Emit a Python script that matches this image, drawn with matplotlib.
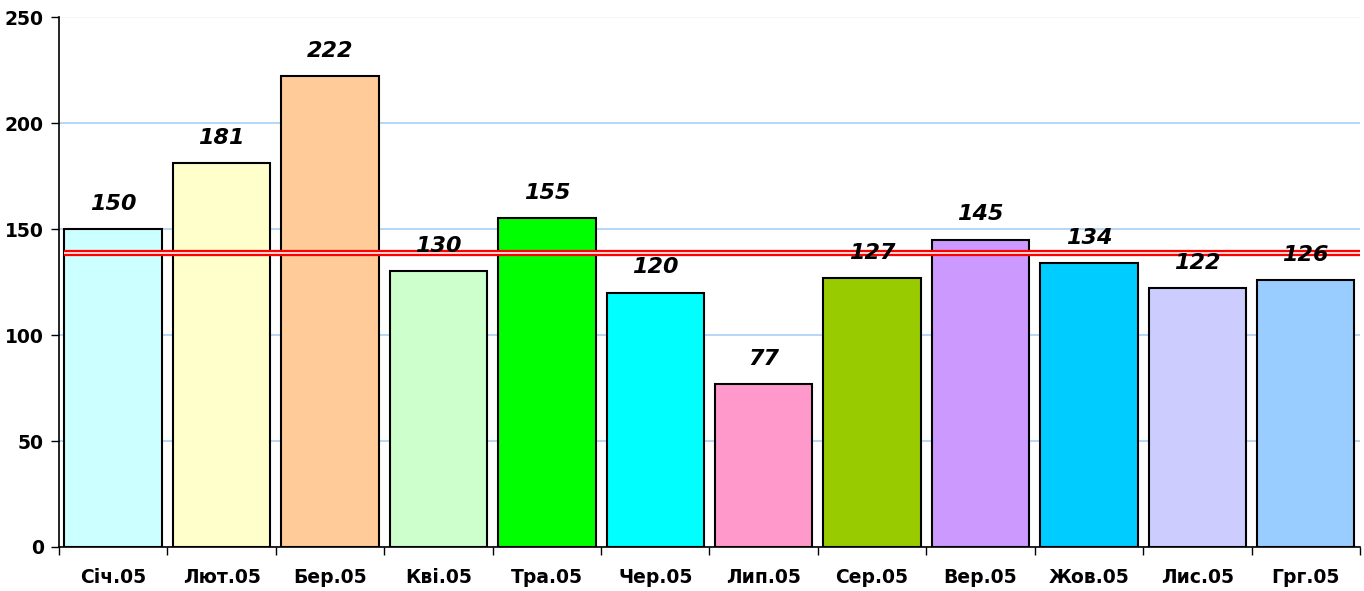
import matplotlib.pyplot as plt

months = ["Січ.05", "Лют.05", "Бер.05", "Кві.05", "Тра.05", "Чер.05",
          "Лип.05", "Сер.05", "Вер.05", "Жов.05", "Лис.05", "Грг.05"]
values = [150, 181, 222, 130, 155, 120, 77, 127, 145, 134, 122, 126]
colors = ["#CCFFFF", "#FFFFCC", "#FFCC99", "#CCFFCC", "#00FF00", "#00FFFF",
          "#FF99CC", "#99CC00", "#CC99FF", "#00CCFF", "#CCCCFF", "#99CCFF"]
ref_level = 138.7

fig = plt.figure(figsize=(13.64, 5.91), dpi=100)
ax = fig.add_axes([0.0433, 0.0745, 0.9537, 0.8965])

x = list(range(len(months)))
ax.bar(x, values, width=0.9, color=colors, edgecolor="black", linewidth=1.5, zorder=2)

for xi, v in zip(x, values):
    ax.annotate(str(v), (xi, v), xytext=(0, 11), textcoords="offset points",
                ha="center", va="bottom", fontsize=16, fontweight="bold",
                fontstyle="italic", zorder=4)

# red double line
ax.plot([-0.45, len(months) - 0.5], [ref_level, ref_level], color="red", lw=4.5,
        zorder=3, solid_capstyle="butt")
ax.plot([-0.45, len(months) - 0.5], [ref_level, ref_level], color="#ffd8d8", lw=1.4,
        zorder=3, solid_capstyle="butt")

ax.set_xlim(-0.5, len(months) - 0.5)
ax.set_ylim(0, 250)
ax.set_yticks([0, 50, 100, 150, 200, 250])
ax.yaxis.grid(True, color="#a8cff5", lw=1.2, zorder=0)
ax.set_axisbelow(True)
ax.get_ygridlines()[-1].set_color("#f0f6fc")

ax.set_xticks(x)
ax.set_xticklabels(months, fontsize=13.5, fontweight="bold")
ax.set_xticks([i - 0.5 for i in range(len(months) + 1)], minor=True)
ax.tick_params(axis="x", which="major", length=0, pad=15)
ax.tick_params(axis="x", which="minor", length=6, width=1, direction="out")
ax.tick_params(axis="y", length=6, width=1, direction="out", labelsize=13.5, pad=5)
for lbl in ax.get_yticklabels():
    lbl.set_fontweight("bold")

ax.spines["top"].set_visible(False)
ax.spines["right"].set_visible(False)
ax.spines["left"].set_linewidth(1.2)
ax.spines["bottom"].set_linewidth(1.2)

fig.savefig("out.png", dpi=100)
